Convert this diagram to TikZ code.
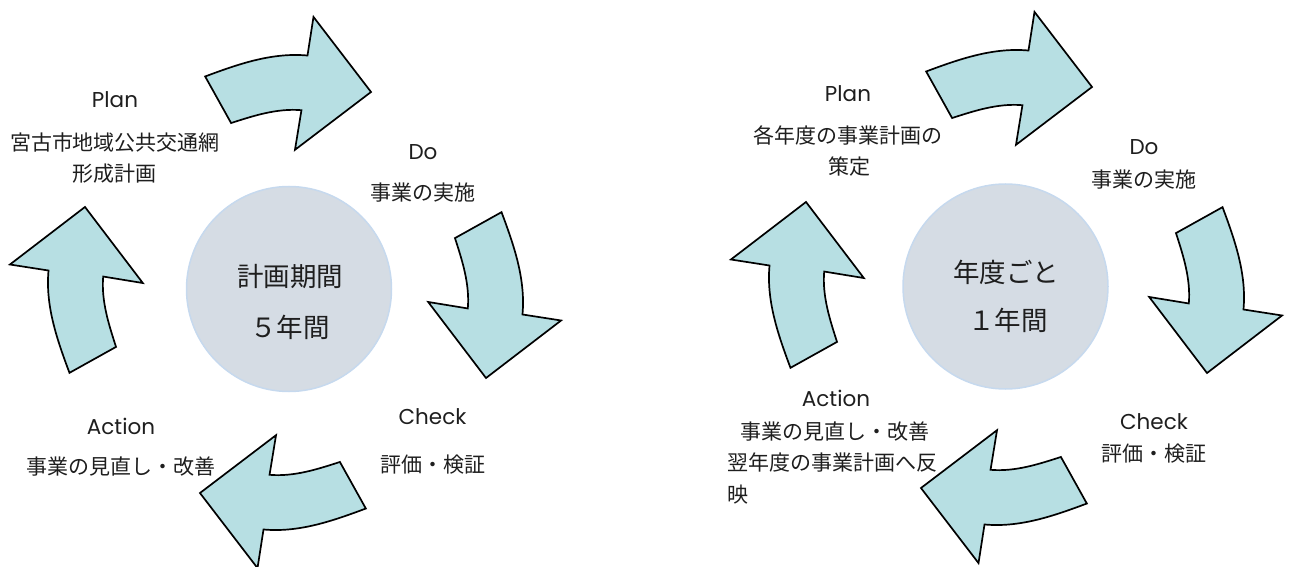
\documentclass[tikz,border=0pt]{standalone}
\usepackage{fontspec}
\setmainfont{Noto Sans CJK JP}
\newfontfamily\latinfont{Poppins}
\definecolor{arrowfill}{RGB}{183,223,227}
\definecolor{circfill}{RGB}{213,220,228}
\definecolor{circline}{RGB}{198,217,238}
\definecolor{txt}{RGB}{30,30,30}
\tikzset{
  cyclearrow/.style={draw=black, fill=arrowfill, line width=1.7pt, line join=miter},
  hub/.style={circle, fill=circfill, draw=circline, line width=1.5pt, minimum size=205pt, inner sep=0pt},
  jtext/.style={text=txt, font=\fontsize{21}{25}\selectfont, inner sep=0pt},
  ltext/.style={text=txt, font=\latinfont\fontsize{21.5}{26}\selectfont, inner sep=0pt},
  htext/.style={text=txt, font=\fontsize{26.5}{30}\selectfont, inner sep=0pt},
}
\newcommand\drawcyc[3]{%
  \begin{scope}[shift={(#1,#2)},rotate=#3]
    \draw[cyclearrow] (110.4:230.5) .. controls (101.85:233.1) and (93.25:240.7) .. (84.7:238)
      -- (84.2:277) -- (66.9:218) -- (86.2:143) -- (85.0:183)
      .. controls (92.58:184.6) and (100.22:179.6) .. (107.8:178) -- cycle;
  \end{scope}}
\begin{document}
\begin{tikzpicture}[x=1pt,y=1pt]
\useasboundingbox (0,0) rectangle (1294,566);
% ---------- left cycle ----------
\node[hub] (hubL) at (289,277) {};
\drawcyc{285.5}{273.5}{0}
\drawcyc{285.5}{273.5}{-90}
\drawcyc{285.5}{273.5}{-180}
\drawcyc{285.5}{273.5}{-270}
\node[htext] (hubLa) at (290,289) {計画期間};
\node[htext] (hubLb) at (290,239) {５年間};
\node[ltext] (planL) at (115,466) {Plan};
\node[jtext] (planLa) at (115,423) {宮古市地域公共交通網};
\node[jtext] (planLb) at (114,392) {形成計画};
\node[ltext] (doL) at (423,414) {Do};
\node[jtext] (doLa) at (423,373) {事業の実施};
\node[ltext] (checkL) at (432.5,149) {Check};
\node[jtext] (checkLa) at (433,101) {評価・検証};
\node[ltext] (actL) at (121,140) {Action};
\node[jtext] (actLa) at (121,99) {事業の見直し・改善};
% ---------- right cycle ----------
\node[hub] (hubR) at (1005.5,279.5) {};
\drawcyc{1006.5}{278.5}{0}
\drawcyc{1006.5}{278.5}{-90}
\drawcyc{1006.5}{278.5}{-180}
\drawcyc{1006.5}{278.5}{-270}
\node[htext] (hubRa) at (1006,294) {年度ごと};
\node[htext] (hubRb) at (1008,246) {１年間};
\node[ltext] (planR) at (848,472) {Plan};
\node[jtext] (planRa) at (848,431) {各年度の事業計画の};
\node[jtext] (planRb) at (849,399) {策定};
\node[ltext] (doR) at (1144,419) {Do};
\node[jtext] (doRa) at (1144,386) {事業の実施};
\node[ltext] (checkR) at (1154,144) {Check};
\node[jtext] (checkRa) at (1154,112) {評価・検証};
\node[ltext] (actR) at (836,168) {Action};
\node[jtext] (actRa) at (835,134) {事業の見直し・改善};
\node[jtext, anchor=west] (actRb) at (727,103) {翌年度の事業計画へ反};
\node[jtext, anchor=west] (actRc) at (727,71) {映};
\end{tikzpicture}
\end{document}
